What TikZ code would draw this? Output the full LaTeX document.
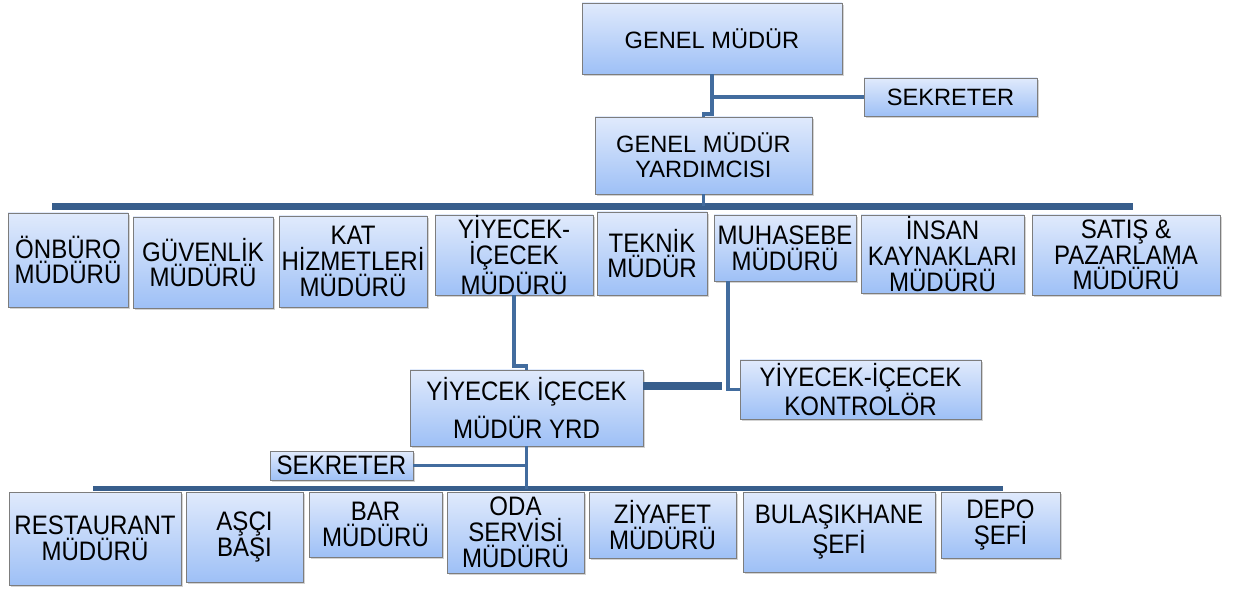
\documentclass[tikz,border=0pt]{standalone}
\usepackage{fontspec}
\setmainfont{Liberation Sans}
\newfontfamily\narrowfont[FakeStretch=0.9]{Liberation Sans}
\usepackage{tikz}
\usetikzlibrary{shadows}

\definecolor{boxtop}{RGB}{224,234,252}
\definecolor{boxbot}{RGB}{158,192,246}
\definecolor{boxline}{RGB}{125,125,125}
\definecolor{linkblue}{RGB}{66,108,158}
\definecolor{busblue}{RGB}{56,94,140}

\tikzset{
  boxsize/.style 2 args={minimum width=#1*0.025cm, minimum height=#2*0.025cm},
  orgbox/.style={draw=boxline, line width=0.6pt, top color=boxtop, bottom color=boxbot,
    inner sep=0pt, align=center, font=\fontsize{16.8pt}{18pt}\selectfont,
    drop shadow={shadow xshift=1.5pt, shadow yshift=-1.5pt, opacity=0.35}},
  narrowbox/.style={orgbox, font=\narrowfont\fontsize{19pt}{18.3pt}\selectfont},
  link/.style={draw=linkblue, line width=2.8pt},
  bus/.style={draw=busblue, line width=5pt},
}

\begin{document}
\begin{tikzpicture}[x=0.025cm, y=-0.025cm]
       \useasboundingbox (0,0) rectangle (1238,590);

       % top
       \node [orgbox, boxsize={260}{71}] (gm) at (712, 38.5) {GENEL MÜDÜR};
       \node [orgbox, boxsize={173}{38}] (sek1) at (950.5, 97) {SEKRETER};
       \node [orgbox, boxsize={217}{77}] (gmy) at (703.5, 155.5) {GENEL MÜDÜR\\YARDIMCISI};

       % first row
       \node [narrowbox, boxsize={120}{94}] (onburo) at (68, 260) {ÖNBÜRO\\MÜDÜRÜ};
       \node [narrowbox, boxsize={140}{91}] (guvenlik) at (203, 262.5) {GÜVENLİK\\MÜDÜRÜ};
       \node [narrowbox, boxsize={148}{91}] (kat) at (353, 261.5) {KAT\\HİZMETLERİ\\MÜDÜRÜ};
       \node [narrowbox, boxsize={158}{80}] (yim) at (514, 255) {YİYECEK-\\İÇECEK\\MÜDÜRÜ};
       \node [narrowbox, boxsize={110}{83}] (teknik) at (652, 253.5) {TEKNİK\\MÜDÜR};
       \node [narrowbox, boxsize={142}{66}] (muhasebe) at (785, 248) {MUHASEBE\\MÜDÜRÜ};
       \node [narrowbox, boxsize={163}{78}] (insan) at (942.5, 254) {İNSAN\\KAYNAKLARI\\MÜDÜRÜ};
       \node [narrowbox, boxsize={188}{80}] (satis) at (1126, 255) {SATIŞ \&\\PAZARLAMA\\MÜDÜRÜ};

       % food and beverage
       \node [narrowbox, boxsize={233}{76}] (yrd) at (526.5, 408) {YİYECEK İÇECEK\\[6pt]MÜDÜR YRD};
       \node [narrowbox, boxsize={241}{59}] (kontrol) at (860.5, 389.5) {YİYECEK-İÇECEK\\KONTROLÖR};
       \node [narrowbox, boxsize={143}{29}] (sek2) at (341.5, 465.5) {SEKRETER};

       % second row
       \node [narrowbox, boxsize={172}{93}] (restaurant) at (95, 538.5) {RESTAURANT\\MÜDÜRÜ};
       \node [narrowbox, boxsize={117}{90}] (asci) at (244.5, 537) {AŞÇI\\BAŞI};
       \node [narrowbox, boxsize={133}{65}] (bar) at (375.5, 524.5) {BAR\\MÜDÜRÜ};
       \node [narrowbox, boxsize={137}{81}] (oda) at (515.5, 532.5) {ODA\\SERVİSİ\\MÜDÜRÜ};
       \node [narrowbox, boxsize={147}{66}] (ziyafet) at (662.5, 525) {ZİYAFET\\MÜDÜRÜ};
       \node [narrowbox, boxsize={192}{80}] (bulasik) at (839, 532) {BULAŞIKHANE\\ŞEFİ};
       \node [narrowbox, boxsize={119}{66}] (depo) at (1000.5, 525) {DEPO\\ŞEFİ};

       % connectors
       \coordinate (j1) at (712, 114);
       \coordinate (bus1l) at (52, 206.5);
       \coordinate (bus1r) at (1133, 206.5);
       \coordinate (j2) at (514, 366);
       \coordinate (m1) at (728, 281);
       \coordinate (k1) at (722, 386);
       \coordinate (bus3l) at (93, 488.5);
       \coordinate (bus3r) at (1003, 488.5);

       \draw [link] (gm.south) |- (sek1.west);
       \draw [link] (gm.south) -- (j1) -| (gmy.north);
       \draw [bus] (bus1l) -- (bus1r);
       \draw [link] (gmy.south) -- (gmy.south |- bus1l);

       \draw [link] (yim.south) -- (j2) -| (yrd.north);
       \draw [link] (m1) |- (kontrol.west);
       \draw [bus] (k1 -| yrd.east) -- (k1);

       \draw [bus, line width=4pt] (bus3l) -- (bus3r);
       \draw [link] (yrd.south) -- (yrd.south |- bus3l);
       \draw [link] (sek2.east) -- (sek2.east -| yrd.south);
\end{tikzpicture}
\end{document}
